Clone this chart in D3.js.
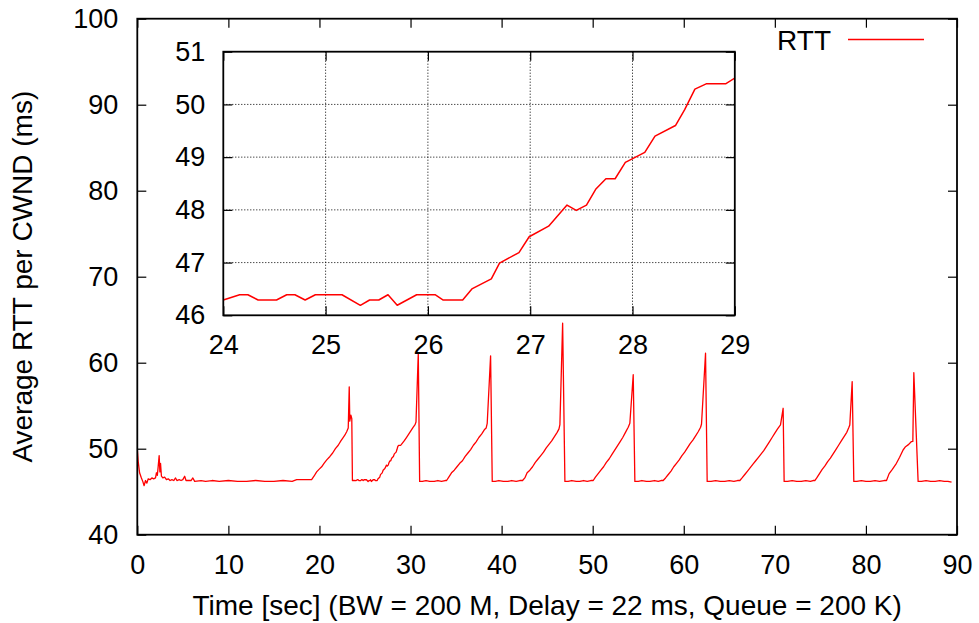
<!DOCTYPE html>
<html><head><meta charset="utf-8">
<script src="https://cdn.jsdelivr.net/npm/d3@7"></script>
<style>body{margin:0;background:#fff}</style>
</head><body>
<script>
// ---- data ----
const time = [
 0.00,0.10,0.25,0.45,0.60,0.75,0.90,1.05,1.20,1.40,1.60,1.80,2.00,2.10,2.20,2.30,2.40,2.48,2.55,2.65,2.80,3.00,3.20,3.40,3.60,3.80,4.00,4.20,4.35,4.60,4.80,5.00,5.20,5.35,5.60,5.90,6.10,6.30,7.00,7.50,8.20,9.00,10.0,11.0,12.0,13.0,14.0,15.0,16.0,17.0,17.5,18.0,18.5,19.14,
 19.4,19.69,19.95,20.24,20.5,20.8,21.15,21.45,21.75,22.06,22.35,22.6,22.8,23.0,23.16,23.27,23.33,23.45,23.55,23.62,23.8,
 24.00,24.16,24.24,24.34,24.52,24.62,24.70,24.80,24.90,25.16,25.34,25.43,25.52,25.61,25.70,25.89,26.07,26.15,26.34,26.43,26.62,26.70,26.89,26.99,27.18,27.36,27.45,27.55,27.64,27.74,27.83,27.93,28.03,28.12,28.22,28.42,28.51,28.61,28.72,28.91,29.00,
 29.3,29.55,29.8,30.05,30.3,30.5,30.6,30.85,31.0,
 31.3,31.7,32.1,32.6,33.0,33.4,33.8,33.96,
 34.2,34.5,34.8,35.1,35.4,35.7,36.0,36.3,36.6,36.9,37.2,37.5,37.8,38.1,38.3,38.42,38.79,38.97,
 39.3,39.7,40.2,40.7,41.1,41.6,42.0,42.3,
 42.55,42.8,43.1,43.4,43.7,44.0,44.3,44.6,44.9,45.2,45.5,45.8,46.1,46.3,46.40,46.70,46.95,
 47.3,47.7,48.2,48.6,49.0,49.4,49.8,50.06,
 50.3,50.6,50.9,51.2,51.5,51.8,52.1,52.4,52.7,53.0,53.3,53.6,53.9,54.08,54.45,54.63,
 55.0,55.4,55.9,56.3,56.8,57.2,57.5,57.74,
 58.0,58.3,58.6,58.9,59.2,59.5,59.8,60.1,60.4,60.7,61.0,61.3,61.6,61.85,61.95,62.39,62.57,
 63.0,63.5,64.0,64.5,65.0,65.5,65.9,66.16,
 66.4,66.7,67.0,67.3,67.6,67.9,68.2,68.5,68.8,69.1,69.4,69.7,70.0,70.3,70.62,70.91,71.02,
 71.4,71.9,72.4,72.9,73.4,73.9,74.2,74.39,
 74.6,74.9,75.2,75.5,75.8,76.1,76.4,76.7,77.0,77.3,77.6,77.9,78.1,78.23,78.49,78.67,
 79.0,79.5,80.0,80.5,81.0,81.5,82.0,82.26,
 82.55,82.9,83.35,83.7,84.08,84.35,84.7,84.97,85.15,85.26,85.73,
 86.1,86.6,87.1,87.6,88.1,88.6,89.0,89.4
];
const rtt = [
 50.0,48.5,47.2,46.6,46.2,45.7,46.3,46.0,46.5,46.4,46.6,46.5,46.6,47.2,46.9,48.0,49.2,47.3,48.3,46.8,46.6,46.7,46.4,46.5,46.3,46.4,46.3,46.6,46.3,46.4,46.3,46.4,46.8,46.3,46.3,46.3,46.6,46.2,46.3,46.2,46.3,46.2,46.3,46.2,46.2,46.3,46.2,46.2,46.3,46.2,46.4,46.4,46.4,46.4,
 46.8,47.3,47.6,47.9,48.3,48.7,49.1,49.5,50.0,50.4,50.9,51.3,51.6,52.0,52.4,57.2,53.2,53.9,53.5,46.3,46.3,
 46.29,46.39,46.39,46.29,46.29,46.39,46.39,46.29,46.39,46.39,46.19,46.29,46.29,46.39,46.19,46.39,46.39,46.29,46.29,46.50,46.69,46.99,47.19,47.49,47.69,48.09,47.99,48.09,48.39,48.59,48.59,48.90,49.00,49.09,49.40,49.60,49.90,50.29,50.39,50.39,50.50,
 50.9,51.3,51.7,52.1,52.5,52.8,53.1,61.1,46.2,
 46.2,46.3,46.2,46.2,46.3,46.2,46.3,46.3,
 46.7,47.2,47.5,47.9,48.3,48.6,49.1,49.5,49.9,50.4,50.8,51.3,51.7,52.2,52.4,52.95,60.8,46.2,
 46.2,46.3,46.2,46.2,46.3,46.2,46.3,46.3,
 46.6,47.2,47.5,47.9,48.4,48.8,49.2,49.6,50.1,50.5,50.9,51.4,51.9,52.3,52.8,64.6,46.2,
 46.2,46.3,46.2,46.2,46.3,46.2,46.3,46.3,
 46.7,47.1,47.5,47.9,48.4,48.8,49.3,49.8,50.3,50.8,51.3,51.9,52.5,52.95,58.6,46.2,
 46.2,46.3,46.2,46.2,46.3,46.2,46.3,46.3,
 46.6,47.0,47.4,47.9,48.3,48.7,49.2,49.6,50.1,50.6,51.0,51.5,52.0,52.5,52.87,61.1,46.2,
 46.2,46.3,46.2,46.2,46.3,46.2,46.3,46.3,
 46.6,47.0,47.4,47.8,48.2,48.6,49.0,49.4,49.8,50.3,50.8,51.3,51.8,52.3,52.76,54.7,46.2,
 46.2,46.3,46.2,46.2,46.3,46.2,46.3,46.3,
 46.6,47.1,47.6,48.0,48.5,48.9,49.4,49.9,50.4,50.9,51.4,51.9,52.4,52.76,57.8,46.2,
 46.2,46.3,46.2,46.2,46.3,46.2,46.3,46.3,
 47.1,47.6,48.3,49.0,49.85,50.23,50.5,50.81,50.85,58.84,46.2,
 46.2,46.3,46.2,46.2,46.3,46.2,46.2,46.1
];
const mainXTicks = [0,10,20,30,40,50,60,70,80,90];
const mainYTicks = [40,50,60,70,80,90,100];
const insetXTicks = [24,25,26,27,28,29];
const insetYTicks = [46,47,48,49,50,51];
const seriesName = "RTT";
const xTitle = "Time [sec] (BW = 200 M, Delay = 22 ms, Queue = 200 K)";
const yTitle = "Average RTT per CWND (ms)";

// ---- drawing ----
const W = 979, H = 623;
const FONT = "'Liberation Sans', Arial, Helvetica, sans-serif";
const FS = 27;
const FT = 28;
const data = time.map((t, i) => ({t, v: rtt[i]}));

const svg = d3.select("body").append("svg")
  .attr("width", W).attr("height", H)
  .style("font-family", FONT);

const P = {l: 137.3, r: 957, t: 18.7, b: 534.7};
const x = d3.scaleLinear().domain([0, 90]).range([P.l, P.r]);
const y = d3.scaleLinear().domain([40, 100]).range([P.b, P.t]);

function styleAxis(g) {
  g.select(".domain").remove();
  g.selectAll(".tick line").attr("stroke", "#000").attr("stroke-width", 1.2);
  g.selectAll(".tick text").attr("font-size", FS).attr("font-family", FONT).attr("fill", "#000");
}

svg.append("defs").append("clipPath").attr("id", "clipMain")
  .append("rect").attr("x", P.l).attr("y", P.t).attr("width", P.r - P.l).attr("height", P.b - P.t);

// main axes
svg.append("g").attr("transform", `translate(0,${P.b})`)
  .call(d3.axisBottom(x).tickValues(mainXTicks).tickSize(-9).tickPadding(20).tickFormat(d3.format("d")))
  .call(styleAxis);
svg.append("g").attr("transform", `translate(0,${P.t})`)
  .call(d3.axisTop(x).tickValues(mainXTicks).tickSize(-9).tickFormat(""))
  .call(styleAxis);
svg.append("g").attr("transform", `translate(${P.l},0)`)
  .call(d3.axisLeft(y).tickValues(mainYTicks).tickSize(-9).tickPadding(19).tickFormat(d3.format("d")))
  .call(styleAxis);
svg.append("g").attr("transform", `translate(${P.r},0)`)
  .call(d3.axisRight(y).tickValues(mainYTicks).tickSize(-9).tickFormat(""))
  .call(styleAxis);

// main line
svg.append("path").datum(data)
  .attr("clip-path", "url(#clipMain)")
  .attr("fill", "none").attr("stroke", "#ff0000").attr("stroke-width", 1.3)
  .attr("stroke-linejoin", "round")
  .attr("d", d3.line().x(d => x(d.t)).y(d => y(d.v)));

// ---- inset ----
const I = {l: 223.3, r: 734.8, t: 51.7, b: 315.3};
const xi = d3.scaleLinear().domain([24, 29]).range([I.l, I.r]);
const yi = d3.scaleLinear().domain([46, 51]).range([I.b, I.t]);

svg.append("rect").attr("x", I.l).attr("y", I.t).attr("width", I.r - I.l).attr("height", I.b - I.t)
  .attr("fill", "#fff");

svg.select("defs").append("clipPath").attr("id", "clipInset")
  .append("rect").attr("x", I.l).attr("y", I.t).attr("width", I.r - I.l).attr("height", I.b - I.t);

const grid = svg.append("g");
grid.selectAll("line.gx").data(insetXTicks.slice(1, -1)).join("line")
  .attr("x1", d => xi(d)).attr("x2", d => xi(d)).attr("y1", I.t).attr("y2", I.b)
  .attr("stroke", "#000").attr("stroke-width", 1).attr("stroke-dasharray", "1,2");
grid.selectAll("line.gy").data(insetYTicks.slice(1, -1)).join("line")
  .attr("class", "gy")
  .attr("x1", I.l).attr("x2", I.r).attr("y1", d => yi(d)).attr("y2", d => yi(d))
  .attr("stroke", "#000").attr("stroke-width", 1).attr("stroke-dasharray", "1,2");

svg.append("g").attr("transform", `translate(0,${I.b})`)
  .call(d3.axisBottom(xi).tickValues(insetXTicks).tickSize(-9).tickPadding(20).tickFormat(d3.format("d")))
  .call(styleAxis);
svg.append("g").attr("transform", `translate(0,${I.t})`)
  .call(d3.axisTop(xi).tickValues(insetXTicks).tickSize(-9).tickFormat(""))
  .call(styleAxis);
svg.append("g").attr("transform", `translate(${I.l},0)`)
  .call(d3.axisLeft(yi).tickValues(insetYTicks).tickSize(-9).tickPadding(18).tickFormat(d3.format("d")))
  .call(styleAxis);
svg.append("g").attr("transform", `translate(${I.r},0)`)
  .call(d3.axisRight(yi).tickValues(insetYTicks).tickSize(-9).tickFormat(""))
  .call(styleAxis);

svg.append("path").datum(data.filter(d => d.t >= 23.5 && d.t <= 29.5))
  .attr("clip-path", "url(#clipInset)")
  .attr("fill", "none").attr("stroke", "#ff0000").attr("stroke-width", 1.5)
  .attr("stroke-linejoin", "round")
  .attr("d", d3.line().x(d => xi(d.t)).y(d => yi(d.v)));

svg.append("rect").attr("x", I.l).attr("y", I.t).attr("width", I.r - I.l).attr("height", I.b - I.t)
  .attr("fill", "none").attr("stroke", "#000").attr("stroke-width", 1.8);

// legend
svg.append("text").attr("x", 831).attr("y", 40).attr("dy", "0.35em")
  .attr("text-anchor", "end").attr("font-size", FT).text(seriesName);
svg.append("line").attr("x1", 848).attr("x2", 924).attr("y1", 39.5).attr("y2", 39.5)
  .attr("stroke", "#ff0000").attr("stroke-width", 1.3);

// main frame
svg.append("rect").attr("x", P.l).attr("y", P.t).attr("width", P.r - P.l).attr("height", P.b - P.t)
  .attr("fill", "none").attr("stroke", "#000").attr("stroke-width", 1.8);

// titles
svg.append("text").attr("x", (P.l + P.r) / 2).attr("y", 605).attr("dy", "0.35em")
  .attr("text-anchor", "middle").attr("font-size", FT).text(xTitle);
svg.append("text").attr("transform", `translate(22,${(P.t + P.b) / 2}) rotate(-90)`)
  .attr("dy", "0.35em").attr("text-anchor", "middle").attr("font-size", FT).text(yTitle);
</script>
</body></html>
